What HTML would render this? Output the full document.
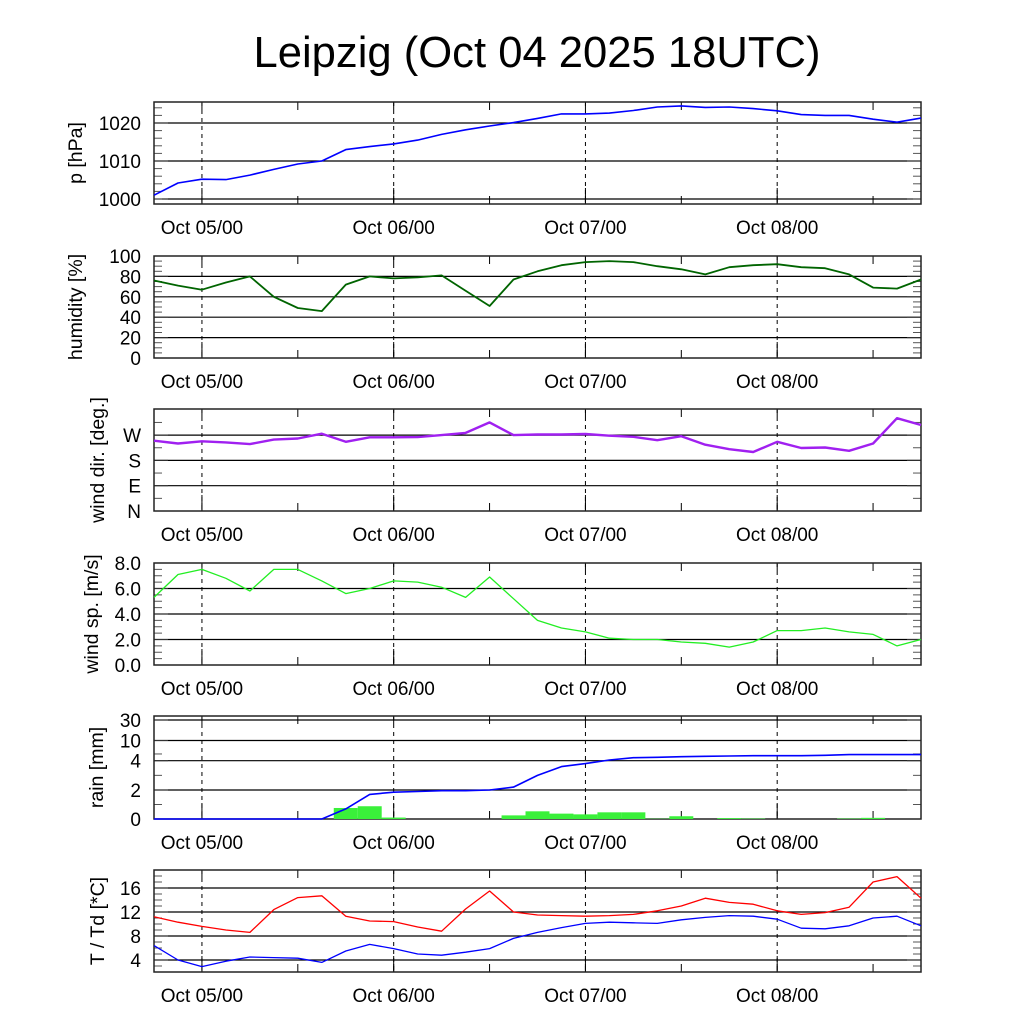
<!DOCTYPE html>
<html><head><meta charset="utf-8">
<style>
html,body{margin:0;padding:0;background:#fff;}
svg{display:block;font-family:"Liberation Sans",sans-serif;}
</style></head>
<body>
<svg id="chart" width="1024" height="1024" viewBox="0 0 1024 1024" xmlns="http://www.w3.org/2000/svg">
<text x="537" y="67" font-size="44" text-anchor="middle" textLength="567" lengthAdjust="spacingAndGlyphs">Leipzig (Oct 04 2025 18UTC)</text>
</svg>
<script>
// hours since Oct 04 18UTC, every 3h
const hours = [0,3,6,9,12,15,18,21,24,27,30,33,36,39,42,45,48,51,54,57,60,63,66,69,72,75,78,81,84,87,90,93,96];
const pressure = [1001,1004.2,1005.2,1005.1,1006.3,1007.8,1009.2,1010,1013,1013.8,1014.5,1015.5,1017,1018.2,1019.2,1020.1,1021.2,1022.4,1022.4,1022.6,1023.3,1024.2,1024.5,1024.1,1024.2,1023.8,1023.2,1022.2,1022,1022,1021,1020.2,1021.3];
const humidity = [76,71,67,74,80,60,49,46,72,80,78,79,81,66,51,77,85,91,94,95,94,90,87,82,89,91,92,89,88,82,69,68,77];
const windDir = [250,240,248,244,238,254,258,275,246,262,262,263,270,278,315,270,272,272,274,268,264,252,266,236,220,210,246,224,226,214,240,330,306];
const windSpeed = [5.3,7.1,7.5,6.8,5.8,7.5,7.5,6.6,5.6,6.0,6.6,6.5,6.1,5.3,6.9,5.2,3.5,2.9,2.6,2.1,2.0,2.0,1.8,1.7,1.4,1.8,2.7,2.7,2.9,2.6,2.4,1.5,2.0];
const rainSum = [0,0,0,0,0,0,0,0,0.7,1.7,1.85,1.9,1.95,1.95,2.0,2.2,3.0,3.6,3.8,4.2,4.9,5.0,5.2,5.3,5.4,5.5,5.5,5.5,5.6,5.8,5.8,5.8,5.8];
const rainBar = [0,0,0,0,0,0,0,0,0.76,0.88,0.1,0,0,0,0,0.25,0.53,0.37,0.32,0.46,0.46,0.02,0.19,0,0.06,0.03,0,0,0,0.03,0.08,0,0];
const temp = [11.2,10.3,9.6,9.0,8.6,12.4,14.4,14.7,11.3,10.5,10.4,9.5,8.8,12.5,15.5,12.0,11.5,11.4,11.3,11.4,11.6,12.2,13.0,14.3,13.6,13.3,12.2,11.6,11.9,12.8,17.0,17.9,14.3];
const dewpoint = [6.4,4.0,2.9,3.8,4.5,4.4,4.3,3.6,5.5,6.6,5.9,5.0,4.8,5.3,5.9,7.6,8.6,9.4,10.1,10.3,10.2,10.1,10.7,11.1,11.4,11.3,10.8,9.3,9.2,9.7,11.0,11.3,9.7];
const dateLabels = ["Oct 05/00","Oct 06/00","Oct 07/00","Oct 08/00"];
const dateHours = [6,30,54,78];
const pTicks = [1000,1010,1020];
const hTicks = [0,20,40,60,80,100];
const dTicks = [0,90,180,270];
const dTickLabels = ["N","E","S","W"];
const sTicks = [0,2,4,6,8];
const rTicks = [0,2,4,10,30];
const tTicks = [4,8,12,16];

const NS="http://www.w3.org/2000/svg";
const svg=document.getElementById('chart');
const X0=154,X1=921,H=96;
const xs=h=>X0+(X1-X0)*h/H;
function el(tag,attrs,parent){const e=document.createElementNS(NS,tag);for(const k in attrs)e.setAttribute(k,attrs[k]);(parent||svg).appendChild(e);return e;}
function lin(v0,v1,p0,p1){return v=>p0+(v-v0)*(p1-p0)/(v1-v0);}
function rainScale(v){const kv=[0,2,4,10,30,40],kp=[819,790,760.7,740.5,720,710];for(let i=0;i<kv.length-1;i++){if(v<=kv[i+1])return kp[i]+(v-kv[i])*(kp[i+1]-kp[i])/(kv[i+1]-kv[i]);}return 710;}

function panel(name,top,bot,ys,ticks,labels,minor,title,titleY){
  const g=el('g',{});
  
  
  ticks.forEach((t,i)=>{const y=ys(t);
    if(y>top+1&&y<bot-1){const l=el('line',{x1:X0,x2:X1,y1:y,y2:y,stroke:'#000','stroke-width':1.2},g);
      }
    const tx=el('text',{x:141,y:y+7,'font-size':19,'text-anchor':'end'},g);tx.textContent=labels[i];
    
    el('line',{x1:X0,x2:X0+14,y1:y,y2:y,stroke:'#333'},g);el('line',{x1:X1-14,x2:X1,y1:y,y2:y,stroke:'#333'},g);
  });
  minor.forEach(m=>{const y=ys(m);if(y>top&&y<bot){el('line',{x1:X0,x2:X0+8,y1:y,y2:y,stroke:'#555'},g);el('line',{x1:X1-8,x2:X1,y1:y,y2:y,stroke:'#555'},g);}});
  for(let h=6;h<H;h+=12){const x=xs(h);
    el('line',{x1:x,x2:x,y1:bot,y2:bot-8,stroke:'#000'},g);el('line',{x1:x,x2:x,y1:top,y2:top+8,stroke:'#000'},g);}
  dateHours.forEach((h,i)=>{const x=xs(h);
    const d=el('line',{x1:x,x2:x,y1:top,y2:bot,stroke:'#000','stroke-dasharray':'4,4'},g);
    
    el('line',{x1:x,x2:x,y1:bot,y2:bot-16,stroke:'#000'},g);
    const t=el('text',{x:x,y:bot+30,'font-size':19,'text-anchor':'middle'},g);t.textContent=dateLabels[i];
    });
  const f=el('rect',{x:X0,y:top,width:X1-X0,height:bot-top,fill:'none',stroke:'#222','stroke-width':1.5},g);
  
  const tt=el('text',{transform:`translate(${titleY},${(top+bot)/2}) rotate(-90)`,'font-size':19.5,'text-anchor':'middle'},g);
  tt.textContent=title;
  return g;
}
function line(vals,ys,color,w,name){
  const d=vals.map((v,i)=>(i?'L':'M')+xs(hours[i]).toFixed(1)+','+ys(v).toFixed(1)).join(' ');
  const p=el('path',{d:d,fill:'none',stroke:color,'stroke-width':w,'stroke-linejoin':'round'});
  
  
}
const pY=lin(1000,1020,199,123);
panel('pressure',102,204,pY,pTicks,pTicks.map(String),[1000,1002,1004,1006,1008,1012,1014,1016,1018,1022,1024],'p [hPa]',82);
line(pressure,pY,'#0000ff',1.6,'pressure-line');

const hY=lin(0,100,358,256);
panel('humidity',256,358,hY,hTicks,hTicks.map(String),[5,10,15,25,30,35,45,50,55,65,70,75,85,90,95],'humidity [%]',82);
line(humidity,hY,'#006400',1.8,'humidity-line');

const dY=lin(0,90,511,485.7);
panel('wind-dir',409,511,dY,dTicks,dTickLabels,[45,135,225,315],'wind dir. [deg.]',104);
line(windDir,dY,'#a020f0',2.4,'wind-direction-line');

const sY=lin(0,8,665,563);
panel('wind-speed',563,665,sY,sTicks,sTicks.map(v=>v.toFixed(1)),[0.5,1,1.5,2.5,3,3.5,4.5,5,5.5,6.5,7,7.5],'wind sp. [m/s]',98);
line(windSpeed,sY,'#22ee22',1.3,'wind-speed-line');

panel('rain',716,819,rainScale,rTicks,rTicks.map(String),[1,3,6],'rain [mm]',103);
rainBar.forEach((v,i)=>{if(v<=0)return;const x=xs(hours[i]-1.5),w=xs(hours[i]+1.5)-x,y=rainScale(v);
  const r=el('rect',{x:Math.max(x,X0),y:y,width:w,height:819-y,fill:'#3af03a'});
  
  });
line(rainSum,rainScale,'#0000ff',1.6,'rain-cumulative-line');

const tY=lin(4,16,960,888);
panel('temperature',870,972,tY,tTicks,tTicks.map(String),[3,5,6,7,9,10,11,13,14,15,17,18],'T / Td [*C]',104);
line(temp,tY,'#ff0000',1.3,'temperature-line');
line(dewpoint,tY,'#0000ff',1.3,'dewpoint-line');
</script>
</body></html>
